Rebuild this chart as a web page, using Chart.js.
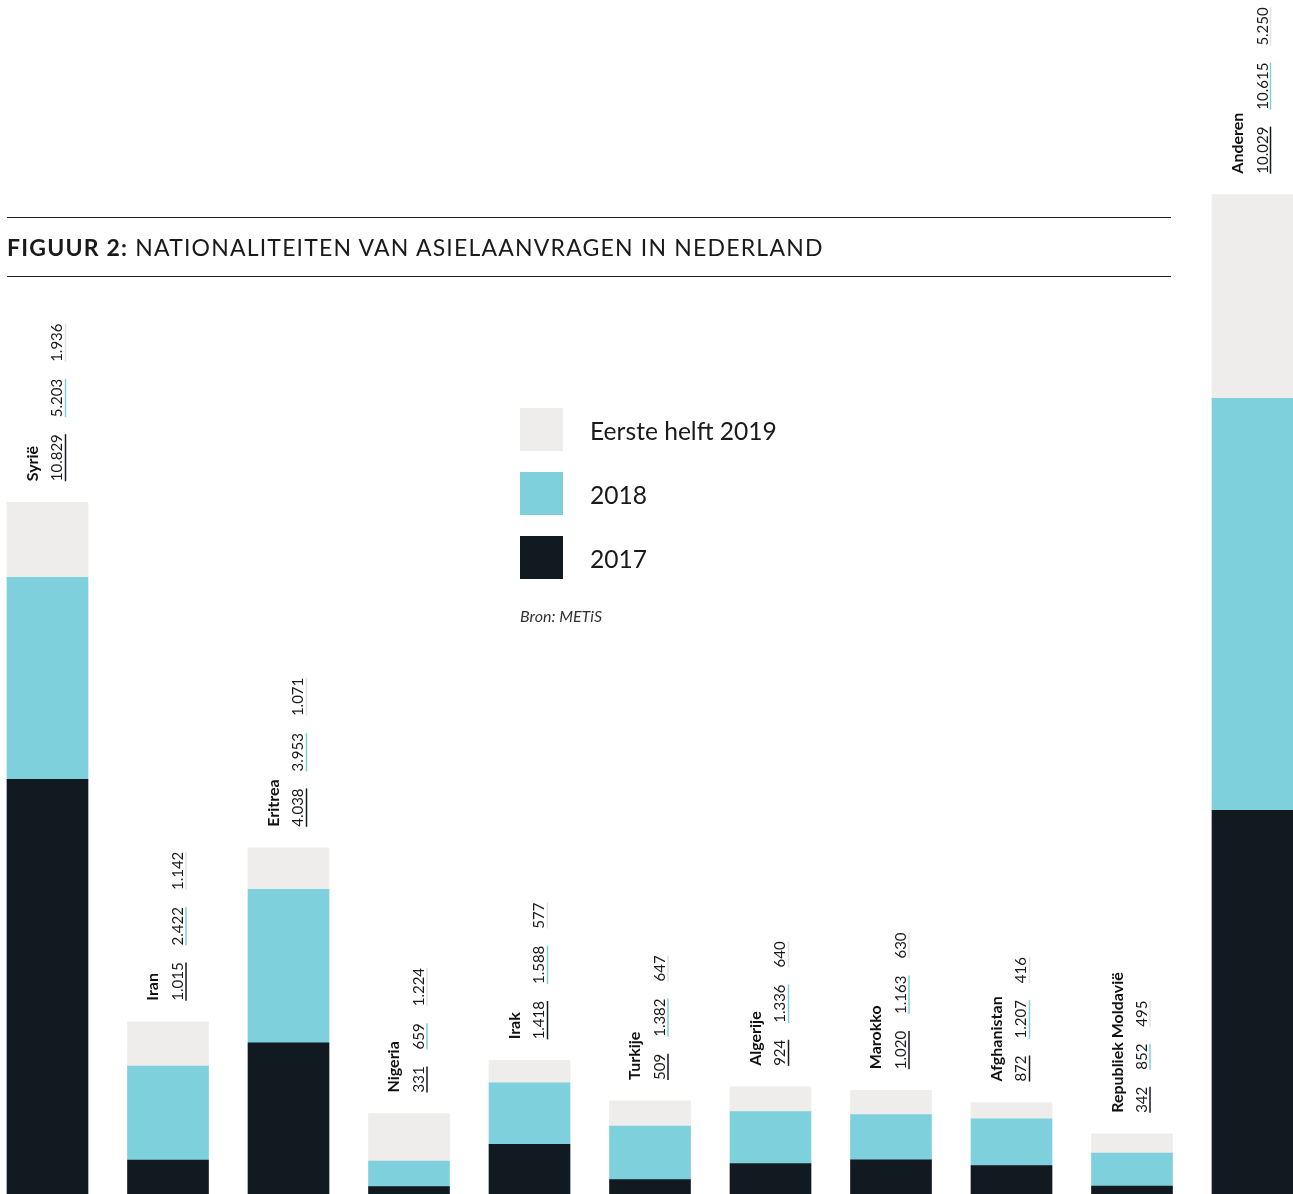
<!DOCTYPE html>
<html><head><meta charset="utf-8">
<script src="https://cdn.jsdelivr.net/npm/chart.js@4.4.1/dist/chart.umd.min.js"></script>
<style>
html,body{margin:0;padding:0;background:#fff;overflow:hidden;width:1293px;height:1194px;font-family:Lato,"Open Sans",sans-serif;color:#1a1a1a;}
#wrap{position:absolute;left:0;top:0;width:1293px;height:1194px;}
.rule{position:absolute;left:7px;width:1164px;height:0;border-top:1.5px solid #1f1f1f;}
#title{position:absolute;left:7px;top:233px;font-size:23px;line-height:28px;white-space:nowrap;letter-spacing:1.2px;}
#title b{font-weight:700;}
.sw{position:absolute;left:520px;width:43px;height:43px;}
.lt{position:absolute;left:590px;font-size:24.6px;line-height:45px;white-space:nowrap;}
#src{position:absolute;left:520px;top:606px;font-size:16px;font-style:italic;color:#333;}
</style></head><body>
<div id="wrap"><canvas id="c" width="1293" height="1194"></canvas></div>
<div class="rule" style="top:217px"></div>
<div id="title"><b>FIGUUR 2:</b> NATIONALITEITEN VAN ASIELAANVRAGEN IN NEDERLAND</div>
<div class="rule" style="top:276px"></div>
<div class="sw" style="top:408px;background:#eeedeb"></div><div class="lt" style="top:408px">Eerste helft 2019</div>
<div class="sw" style="top:472px;background:#7dd0dc"></div><div class="lt" style="top:472px">2018</div>
<div class="sw" style="top:536px;background:#121a21"></div><div class="lt" style="top:536px">2017</div>
<div id="src">Bron: METiS</div>
<script>
const categories = ['Syrië','Iran','Eritrea','Nigeria','Irak','Turkije','Algerije','Marokko','Afghanistan','Republiek Moldavië','Anderen'];
const values2017 = [10829,1015,4038,331,1418,509,924,1020,872,342,10029];
const values2018 = [5203,2422,3953,659,1588,1382,1336,1163,1207,852,10615];
const values2019H1 = [1936,1142,1071,1224,577,647,640,630,416,495,5250];
const seriesNames = ['2017','2018','Eerste helft 2019'];
const seriesColors = ['#121a21','#7dd0dc','#eeedeb'];
const underlineColors = ['#121a21','#7dd0dc','#e3e2e0'];

function fmt(n){ return String(n).replace(/\B(?=(\d{3})+(?!\d))/g,'.'); }
const toPoints = arr => arr.map((v,i)=>({x:i,y:v}));
const allSeries = [values2017, values2018, values2019H1];

const labelPlugin = {
  id:'barLabels',
  afterDatasetsDraw(chart){
    const ctx = chart.ctx;
    const topMeta = chart.getDatasetMeta(2);
    topMeta.data.forEach((el,i)=>{
      const left = el.x - el.width/2;
      const yStart = el.y - 21;
      ctx.save();
      ctx.fillStyle = '#111';
      ctx.textAlign = 'left';
      ctx.textBaseline = 'alphabetic';
      ctx.translate(left + 31, yStart);
      ctx.rotate(-Math.PI/2);
      ctx.font = 'bold 16px Lato';
      ctx.fillText(categories[i], 0, 0);
      ctx.restore();
      let pos = yStart;
      allSeries.forEach((arr,k)=>{
        const t = fmt(arr[i]);
        ctx.save();
        ctx.font = '15px Lato';
        ctx.fillStyle = '#1a1a1a';
        ctx.textAlign = 'left';
        ctx.textBaseline = 'alphabetic';
        const w = ctx.measureText(t).width;
        ctx.translate(left + 55.5, pos);
        ctx.rotate(-Math.PI/2);
        ctx.fillText(t, 0, 0);
        ctx.restore();
        ctx.save();
        ctx.strokeStyle = underlineColors[k];
        ctx.lineWidth = 1.5;
        ctx.beginPath();
        ctx.moveTo(left + 58.5, pos);
        ctx.lineTo(left + 58.5, pos - w);
        ctx.stroke();
        ctx.restore();
        pos -= w + 17;
      });
    });
  }
};

new Chart(document.getElementById('c'), {
  type:'bar',
  data:{
    datasets: allSeries.map((arr,k)=>({
      label: seriesNames[k],
      data: toPoints(arr),
      backgroundColor: seriesColors[k],
      borderWidth: 0,
      barThickness: 81
    }))
  },
  options:{
    responsive:false,
    animation:false,
    devicePixelRatio:1,
    layout:{padding:0},
    plugins:{legend:{display:false}, tooltip:{enabled:false}},
    scales:{
      x:{type:'linear', min:-0.39419, max:10.3361, stacked:true, display:false, offset:false},
      y:{stacked:true, min:139, max:30912, display:false}
    }
  },
  plugins:[labelPlugin]
});
</script>
</body></html>
